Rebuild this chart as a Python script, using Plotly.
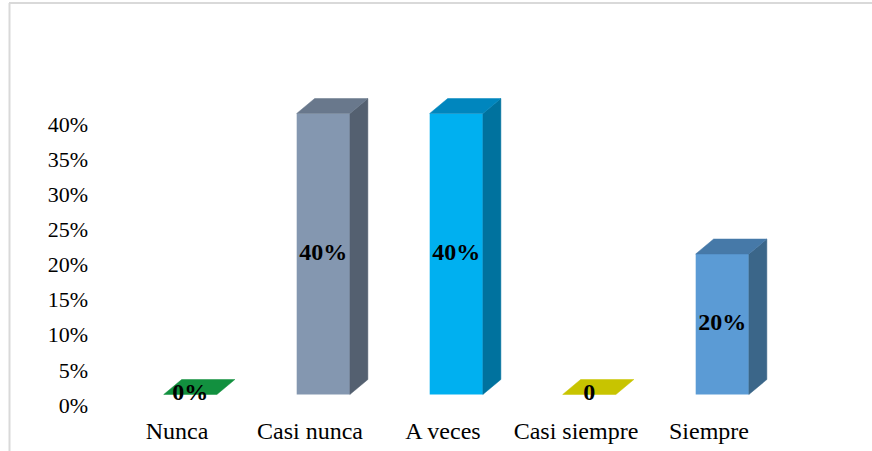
import plotly.graph_objects as go

# Response categories and their shares (%)
categories = ["Nunca", "Casi nunca", "A veces", "Casi siempre", "Siempre"]
values = [0, 40, 40, 0, 20]
labels = ["0%", "40%", "40%", "0", "20%"]
y_ticks = [0, 5, 10, 15, 20, 25, 30, 35, 40]

# Face colours for each box: front, right side, top
front_colors = ["#12903F", "#8497B0", "#00B0F0", "#C8C400", "#5B9BD5"]
side_colors = ["#0A6A2E", "#546070", "#00729E", "#9C9800", "#3B6689"]
top_colors = ["#12903F", "#69788C", "#0086BE", "#C8C400", "#4679A8"]

SERIF = "Liberation Serif, Times New Roman, serif"

# 3D box geometry in data units
SHIFT = 0.10      # boxes sit slightly right of the category tick
WIDTH = 0.40      # front face width
DX = 0.135        # depth, horizontal
DY = 2.13         # depth, vertical (% units)
FLOOR = 1.5       # floor level of the box fronts (% units)

pos = [i + SHIFT for i in range(len(categories))]

fig = go.Figure()

# Front faces
fig.add_trace(go.Bar(
    x=pos, y=values, base=FLOOR, width=WIDTH,
    marker=dict(color=front_colors, line=dict(width=0)),
    hoverinfo="skip", showlegend=False,
))

# Side and top faces
for x, v, sc, tc in zip(pos, values, side_colors, top_colors):
    x0, x1 = x - WIDTH / 2, x + WIDTH / 2
    b, t = FLOOR, FLOOR + v
    if v > 0:
        fig.add_trace(go.Scatter(
            x=[x1, x1 + DX, x1 + DX, x1, x1],
            y=[b, b + DY, t + DY, t, b],
            fill="toself", fillcolor=sc, mode="lines",
            line=dict(color=sc, width=0.5),
            hoverinfo="skip", showlegend=False,
        ))
    fig.add_trace(go.Scatter(
        x=[x0, x1, x1 + DX, x0 + DX, x0],
        y=[t, t, t + DY, t + DY, t],
        fill="toself", fillcolor=tc, mode="lines",
        line=dict(color=tc, width=0.5),
        hoverinfo="skip", showlegend=False,
    ))

# Value labels centred on the front faces
fig.add_trace(go.Scatter(
    x=pos, y=[FLOOR + v / 2 for v in values],
    mode="text", text=labels,
    textposition="middle center",
    textfont=dict(family=SERIF, size=24, color="#000000", weight="bold"),
    hoverinfo="skip", showlegend=False, cliponaxis=False,
))

# Plot area pixel layout
L, R, T, B = 100, 32, 40, 39
W_PX, H_PX = 872, 451
pw, ph = W_PX - L - R, H_PX - T - B

def px_x(p):
    return (p - L) / pw

def px_y(p):
    return (H_PX - B - p) / ph

# Outer chart frame (left and top edges)
frame = "#D9D9D9"
shapes = [
    dict(type="line", xref="paper", yref="paper",
         x0=px_x(9.5), x1=px_x(9.5), y0=px_y(3), y1=px_y(451),
         line=dict(color=frame, width=2)),
    dict(type="line", xref="paper", yref="paper",
         x0=px_x(9), x1=px_x(872), y0=px_y(3), y1=px_y(3),
         line=dict(color=frame, width=2)),
]

fig.update_layout(
    width=W_PX, height=H_PX,
    margin=dict(l=L, r=R, t=T, b=B, pad=0),
    paper_bgcolor="white", plot_bgcolor="white",
    showlegend=False, hovermode=False,
    shapes=shapes,
    xaxis=dict(
        range=[-0.579, 4.985],
        tickmode="array", tickvals=list(range(len(categories))),
        ticktext=categories,
        showgrid=False, zeroline=False, showline=False, ticks="",
        tickfont=dict(family=SERIF, size=24, color="#000000"),
        ticklabelstandoff=2,
        automargin=False,
        fixedrange=True,
    ),
    yaxis=dict(
        range=[-0.996, 51.96],
        tickmode="array", tickvals=y_ticks,
        ticktext=[f"{t}%" for t in y_ticks],
        showgrid=False, zeroline=False, showline=False, ticks="",
        tickfont=dict(family=SERIF, size=22, color="#000000"),
        ticklabelstandoff=11,
        automargin=False,
        fixedrange=True,
    ),
)

fig.write_html("out.html")
